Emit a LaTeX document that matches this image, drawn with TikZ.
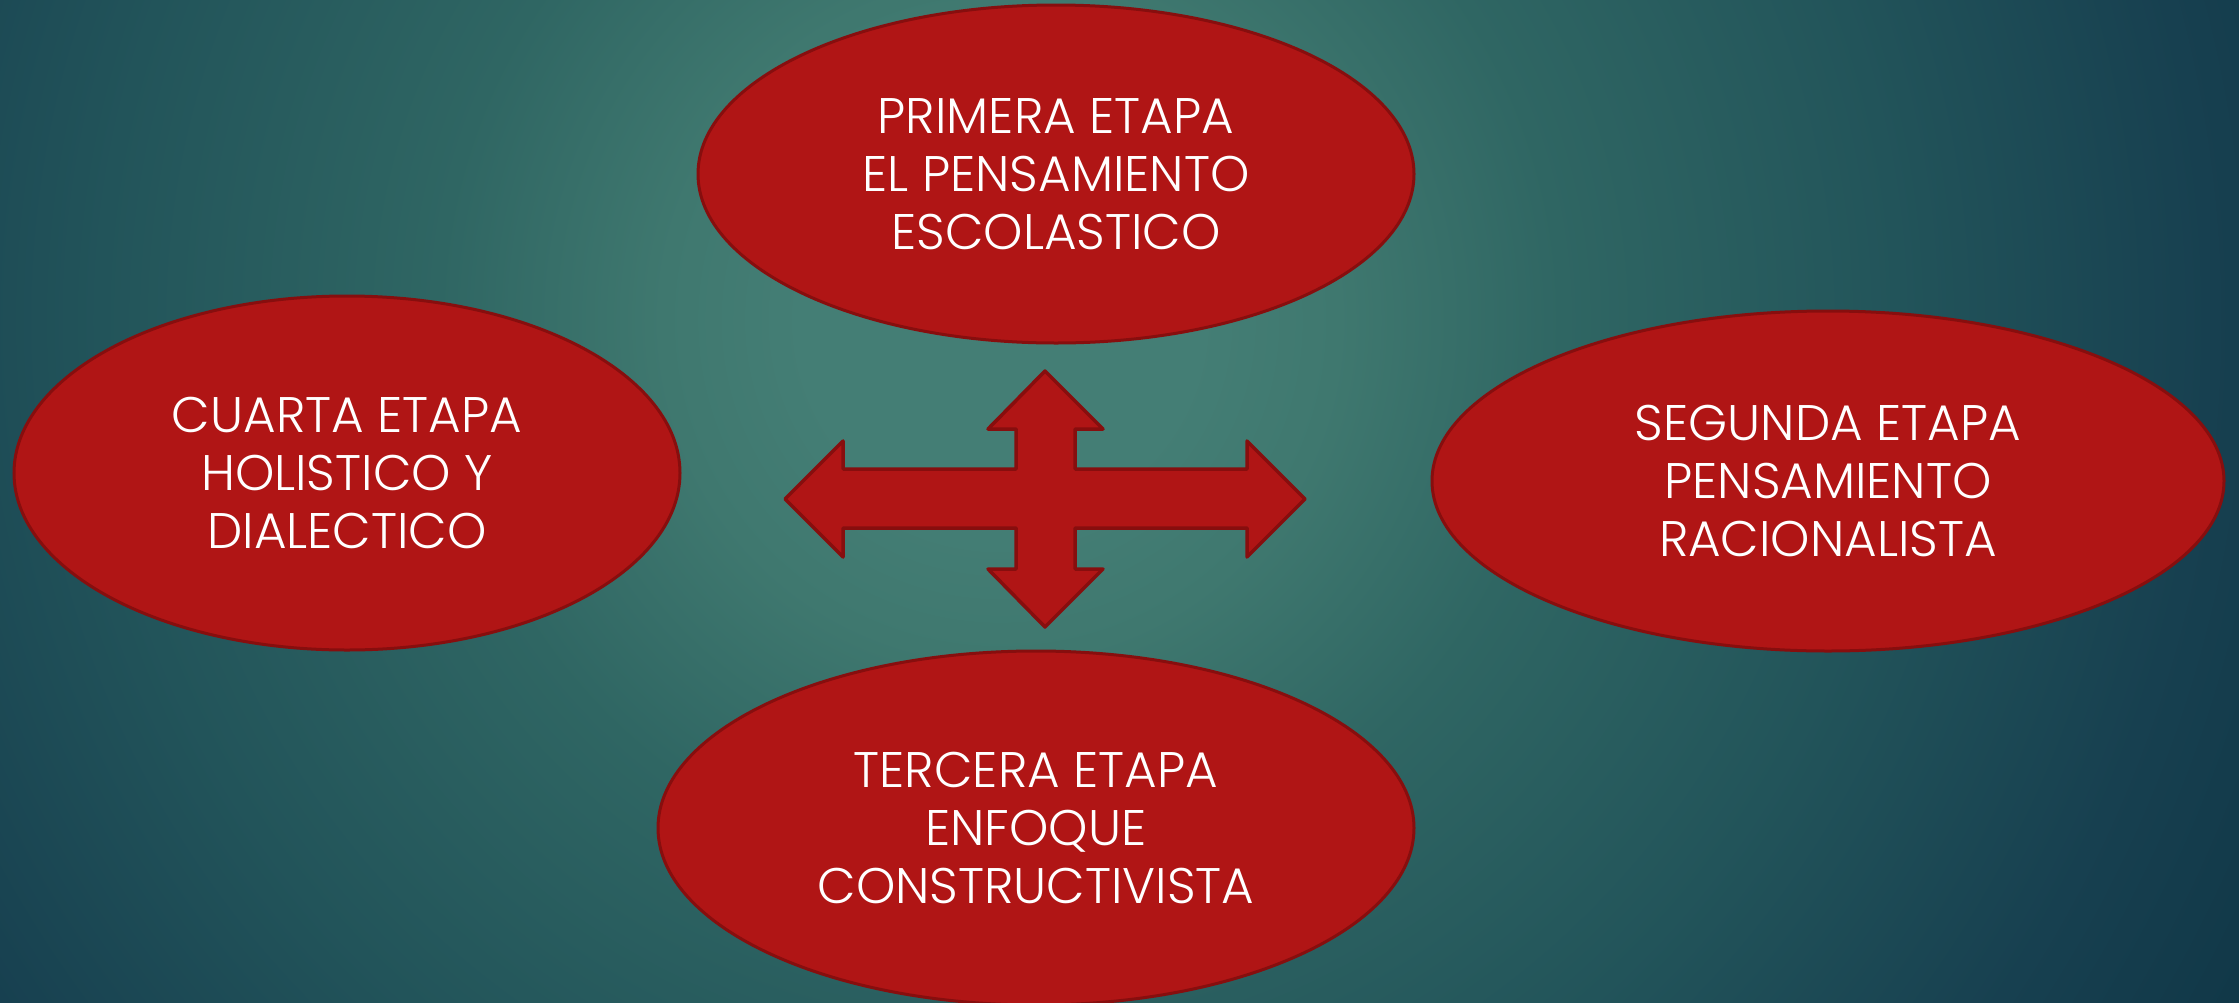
\documentclass[tikz,border=0pt]{standalone}
\usepackage{fontspec}
\setmainfont{Poppins Light}
\usetikzlibrary{shapes.geometric}
\definecolor{bgA}{HTML}{447E75}
\definecolor{bgB}{HTML}{3F786F}
\definecolor{bgC}{HTML}{2F6663}
\definecolor{bgD}{HTML}{22545A}
\definecolor{bgE}{HTML}{174050}
\definecolor{bgo}{HTML}{113848}
\definecolor{redfill}{HTML}{B01515}
\definecolor{redline}{HTML}{870E0E}
\pgfdeclareradialshading{bgshade}{\pgfpoint{0bp}{0bp}}{color(0bp)=(bgA); color(7bp)=(bgA); color(12bp)=(bgB); color(20bp)=(bgC); color(32bp)=(bgD); color(43bp)=(bgE); color(50bp)=(bgo)}
\tikzset{
  stage/.style={ellipse, fill=redfill, draw=redline, line width=3pt, inner sep=0pt,
    text=white, align=center, font=\fontsize{50}{58}\selectfont},
  crossarrow/.style={fill=redfill, draw=redline, line width=3.5pt, line join=round}
}
\begin{document}
\begin{tikzpicture}[x=1pt,y=-1pt]
\useasboundingbox (0,0) rectangle (2239,1002);
\begin{scope}
\clip (0,0) rectangle (2239,1002);
\fill[bgo] (-10,-10) rectangle (2250,1012);
\begin{pgfscope}
\pgflowlevel{\pgftransformshift{\pgfpoint{1000pt}{-320pt}}}
\pgflowlevel{\pgftransformscale{28}}
\pgfuseshading{bgshade}
\end{pgfscope}
\end{scope}
\node[stage, minimum width=716pt, minimum height=338pt] (primera) at (1056,174)
  {PRIMERA ETAPA\\EL PENSAMIENTO\\ESCOLASTICO};
\node[stage, minimum width=666pt, minimum height=354pt] (cuarta) at (347,473)
  {CUARTA ETAPA\\HOLISTICO Y\\DIALECTICO};
\node[stage, minimum width=792pt, minimum height=340pt] (segunda) at (1828,481)
  {SEGUNDA ETAPA\\PENSAMIENTO\\RACIONALISTA};
\node[stage, minimum width=756pt, minimum height=354pt] (tercera) at (1036,828)
  {TERCERA ETAPA\\ENFOQUE\\CONSTRUCTIVISTA};
\draw[crossarrow]
  (785,499) -- (843,441) -- (843,469) -- (1016,469) -- (1016,429) -- (988,429)
  -- (1045,371) -- (1103,429) -- (1075,429) -- (1075,469) -- (1247,469)
  -- (1247,441) -- (1305,499) -- (1247,557) -- (1247,528) -- (1075,528)
  -- (1075,569) -- (1103,569) -- (1045,627) -- (988,569) -- (1016,569)
  -- (1016,528) -- (843,528) -- (843,557) -- cycle;
\end{tikzpicture}
\end{document}
